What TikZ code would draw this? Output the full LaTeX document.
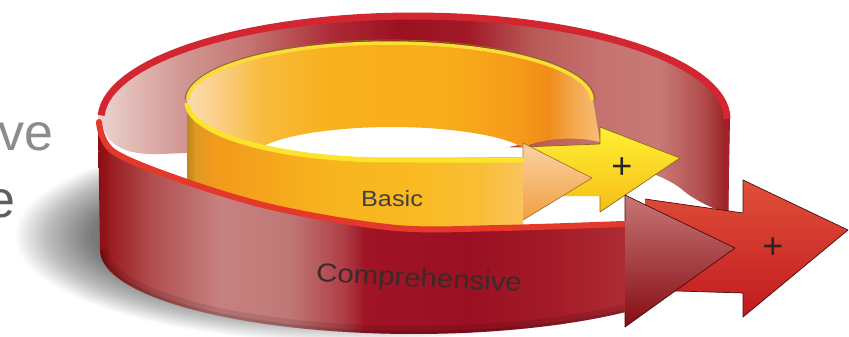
\documentclass[tikz,border=0pt]{standalone}
\usepackage{fontspec}
\newfontfamily\lsans{Liberation Sans}
\usetikzlibrary{fadings}
\definecolor{lgray}{HTML}{8C8C8C}
\definecolor{dgray}{HTML}{5E5E5E}
\definecolor{rimR}{HTML}{D42630}
\definecolor{redge}{HTML}{A4202A}
\definecolor{darkR}{HTML}{4A0C0C}
\definecolor{plusT}{HTML}{E0503A}
\definecolor{plusB}{HTML}{C21A1E}
\definecolor{yline}{HTML}{8A6A1C}
\definecolor{yrimB}{HTML}{F9DE36}
\definecolor{yplT}{HTML}{FFF034}
\definecolor{yplB}{HTML}{F5BE16}
\definecolor{yrimF}{HTML}{FCE42C}
\definecolor{orT}{HTML}{FBD2A4}
\definecolor{orB}{HTML}{F0A040}
\definecolor{orL}{HTML}{B07030}
\definecolor{chT}{HTML}{C87676}
\definecolor{chM}{HTML}{A63A40}
\definecolor{chB}{HTML}{860C14}
\definecolor{rimF}{HTML}{E4382A}
\definecolor{ctext}{HTML}{3A2A2A}
\definecolor{btext}{HTML}{404040}
\newcommand\hseg[6]{\definecolor{hsA}{HTML}{#1}\definecolor{hsB}{HTML}{#2}%
  \shade[left color=hsA,right color=hsB] ({#3-0.6},#5) rectangle ({#4+0.6},#6);}
\begin{document}
\begin{tikzpicture}[x=1pt,y=-1pt,
  txt/.style={inner sep=0pt, outer sep=0pt},
  arrowline/.style={line width=0.7pt, line join=round}]
\useasboundingbox (0,0) rectangle (849,337);
\fill[white] (0,0) rectangle (849,337);

% soft shadow
\foreach \i in {0,...,39}{
  \fill[black,opacity=0.014] plot[domain=0:360,samples=72] ({345+(330-2*\i)*cos(\x)},{236+(106-0.9*\i)*sin(\x)});
}

% cut-off text at the left
\node[txt, anchor=base east, text=lgray, font=\lsans\fontsize{52}{52}\selectfont] (t1) at (53,150) {ve};
\node[txt, anchor=base east, text=dgray, font=\lsans\fontsize{52}{52}\selectfont] (t2) at (15,217) {e};

% floor of outer ring
\fill[white] plot[domain=0:360,samples=100] ({414+316*cos(\x)},{119+106*sin(\x)});
\fill[white] (480,140) rectangle (740,236);

% inner wall of outer (red) ring
\begin{scope}
\clip plot[domain=180:360,samples=60] ({414+316*cos(\x)},{119+106*sin(\x)}) -- (729,166) -- (728,213)
  .. controls (715,210) and (695,200) .. (685,192)
  .. controls (670,178) and (640,168) .. (620,165)
  .. controls (600,160) and (580,152) .. (560,148) -- (300,144)
  .. controls (250,148) and (200,153) .. (160,154)
  .. controls (135,155) and (118,150) .. (108,138) -- cycle;
\hseg{ECD6D2}{E2BCB8}{96}{130}{0}{240}
\hseg{E2BCB8}{D29894}{130}{180}{0}{240}
\hseg{D29894}{C47472}{180}{250}{0}{240}
\hseg{C47472}{AC2C36}{250}{330}{0}{240}
\hseg{AC2C36}{9C1022}{330}{400}{0}{240}
\hseg{9C1022}{A21A28}{400}{470}{0}{240}
\hseg{A21A28}{B85856}{470}{530}{0}{240}
\hseg{B85856}{C6726E}{530}{600}{0}{240}
\hseg{C6726E}{C87A76}{600}{660}{0}{240}
\hseg{C87A76}{B04A4A}{660}{705}{0}{240}
\hseg{B04A4A}{8E1418}{705}{733}{0}{240}
\end{scope}
\draw[line width=7pt, rimR] plot[domain=182:360,samples=60] ({414+313*cos(\x)},{119+103*sin(\x)});
\draw[line width=5pt, redge] (727,121) -- (726,212);

% red "+" arrow
\shade[top color=plusT, bottom color=plusB] (645,199) -- (743,213) -- (743,180) -- (848,230) -- (743,317) -- (743,293) -- (645,290) -- cycle;
\draw[arrowline, draw=darkR] (645,199) -- (743,213) -- (743,180) -- (848,230) -- (743,317) -- (743,293) -- (645,290);

% floor of inner ring
\fill[white] plot[domain=0:360,samples=90] ({390+203*cos(\x)},{100+58*sin(\x)});

% inner wall of inner (yellow) ring
\begin{scope}
\clip plot[domain=180:360,samples=50] ({390+203*cos(\x)},{100+58*sin(\x)}) -- (600,142)
  .. controls (575,136) and (545,138) .. (523,147)
  -- plot[domain=337:202,samples=30] ({392+142*cos(\x)},{160+33*sin(\x)})
  -- plot[domain=129:180,samples=20] ({390+203*cos(\x)},{100+58*sin(\x)}) -- cycle;
\hseg{F8DCB0}{FBD08C}{186}{215}{30}{170}
\hseg{FBD08C}{F9BC40}{215}{260}{30}{170}
\hseg{F9BC40}{F8B01C}{260}{330}{30}{170}
\hseg{F8B01C}{F8AC1A}{330}{450}{30}{170}
\hseg{F8AC1A}{F59A1A}{450}{520}{30}{170}
\hseg{F59A1A}{F08C18}{520}{548}{30}{170}
\hseg{F08C18}{F4AA50}{548}{575}{30}{170}
\hseg{F4AA50}{F6C07A}{575}{602}{30}{170}
\end{scope}
\draw[line width=0.8pt, yline] plot[domain=180:360,samples=50] ({390+205*cos(\x)},{100+60*sin(\x)});
\draw[line width=3.5pt, yrimB] plot[domain=180:360,samples=50] ({390+202*cos(\x)},{100+57*sin(\x)});

% yellow "+" arrow
\shade[top color=yplT, bottom color=yplB] (523,147) -- (600,144) -- (600,127) -- (680,158) -- (600,212) -- (600,196) -- (523,196) -- cycle;
\draw[arrowline, draw=yline] (523,147) -- (600,144) -- (600,127) -- (680,158) -- (600,212) -- (600,196);

% Basic band
\begin{scope}
\clip plot[domain=180:90,samples=40] ({390+203*cos(\x)},{100+58*sin(\x)}) -- (523,157) -- (523,236) -- (187,236) -- cycle;
\hseg{B8841C}{E09A24}{186}{196}{90}{240}
\hseg{E09A24}{F29A1C}{196}{215}{90}{240}
\hseg{F29A1C}{F5A41C}{215}{260}{90}{240}
\hseg{F5A41C}{F8B41E}{260}{330}{90}{240}
\hseg{F8B41E}{F9BA22}{330}{420}{90}{240}
\hseg{F9BA22}{F9BE36}{420}{480}{90}{240}
\hseg{F9BE36}{F9C45E}{480}{524}{90}{240}
\end{scope}
\draw[line width=5pt, yrimF] plot[domain=179:90,samples=40] ({390+203*cos(\x)},{102+58*sin(\x)}) -- (523,160);

% orange arrowhead of Basic
\shade[top color=orT, bottom color=orB] (523,143) -- (592,178) -- (523,220) -- cycle;
\draw[arrowline, draw=orL] (523,157) -- (523,143) -- (592,178) -- (523,220);

\node[txt, font=\lsans\fontsize{22}{22}\selectfont, text=btext, xscale=1.15] (basic) at (392,199) {Basic};
\node[txt, font=\lsans\fontsize{36}{36}\selectfont, text=black!85] (yplus) at (622,168) {+};

% Comprehensive band
\begin{scope}
\clip plot[smooth,tension=0.55] coordinates {(98,119) (113,150) (190,181) (280,207) (397,226) (500,226) (625,222)} -- (625,312)
  -- plot[domain=47.8:180,samples=50] ({414+314*cos(\x)},{250+84*sin(\x)}) -- cycle;
\hseg{8A0A12}{981C20}{97}{110}{110}{345}
\hseg{981C20}{B04C4E}{110}{150}{110}{345}
\hseg{B04C4E}{C68280}{150}{220}{110}{345}
\hseg{C68280}{C07876}{220}{290}{110}{345}
\hseg{C07876}{AE3C44}{290}{345}{110}{345}
\hseg{AE3C44}{A01426}{345}{365}{110}{345}
\hseg{A01426}{9A1022}{365}{470}{110}{345}
\hseg{9A1022}{A41C28}{470}{560}{110}{345}
\hseg{A41C28}{AE2C34}{560}{626}{110}{345}
\draw[line width=16pt, black, opacity=0.10] plot[domain=47.8:180,samples=50] ({414+314*cos(\x)},{250+84*sin(\x)});
\draw[line width=6pt, black, opacity=0.12] plot[domain=47.8:180,samples=50] ({414+314*cos(\x)},{250+84*sin(\x)});
\end{scope}
\draw[line width=6pt, rimF, line cap=round] plot[smooth,tension=0.55] coordinates {(99,122) (114,152) (190,183) (280,209) (397,228) (500,228) (623,224)};

% Comprehensive arrowhead
\shade[top color=chT, middle color=chM, bottom color=chB] (625,195) -- (735,248) -- (625,327) -- cycle;
\draw[arrowline, draw=darkR] (625,222) -- (625,195) -- (735,248) -- (625,327) -- (625,312);

\node[txt, font=\lsans\fontsize{26}{26}\selectfont, text=ctext, xscale=1.13, rotate=-3] (comp) at (419,280) {Comprehensive};
\node[txt, font=\lsans\fontsize{36}{36}\selectfont, text=black!85] (rplus) at (773,248) {+};
\end{tikzpicture}
\end{document}
